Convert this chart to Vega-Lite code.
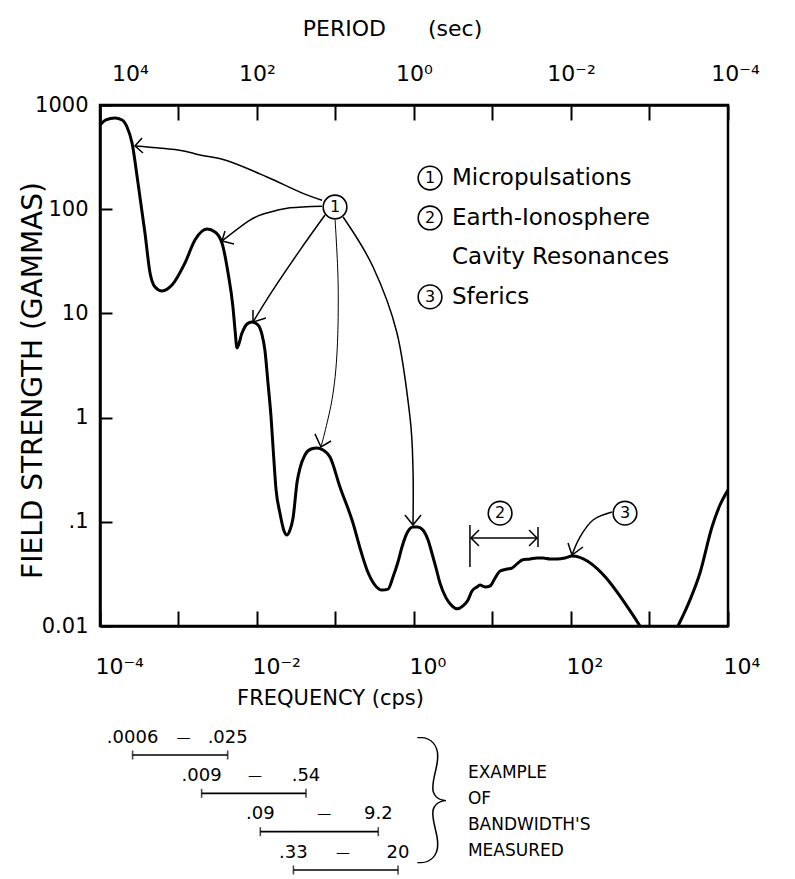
{
  "$schema": "https://vega.github.io/schema/vega-lite/v6.json",
  "width": 628,
  "height": 521,
  "autosize": {"type": "none"},
  "padding": {"left": 100, "top": 105, "right": 67, "bottom": 253},
  "background": "white",
  "config": {
    "view": {"stroke": "black", "strokeWidth": 2.5},
    "font": "DejaVu Sans",
    "text": {"font": "DejaVu Sans", "color": "black"},
    "axis": {"domainColor": "black", "domainWidth": 2.5, "tickColor": "black", "tickWidth": 2, "labelColor": "black", "titleColor": "black", "labelFont": "DejaVu Sans", "titleFont": "DejaVu Sans", "titleFontWeight": "normal", "grid": false, "labelOverlap": false, "labelFlush": false}
  },
  "datasets": {
    "curve": [
      {"f":0.0001,"B":643,"s":"a"},{"f":0.000119,"B":718,"s":"a"},{"f":0.000155,"B":750,"s":"a"},{"f":0.000191,"B":718,"s":"a"},
      {"f":0.000221,"B":615,"s":"a"},{"f":0.000256,"B":432,"s":"a"},{"f":0.000305,"B":178,"s":"a"},{"f":0.000374,"B":59.1,"s":"a"},
      {"f":0.000434,"B":24.4,"s":"a"},{"f":0.000502,"B":17.9,"s":"a"},{"f":0.000617,"B":16.4,"s":"a"},{"f":0.000826,"B":18.7,"s":"a"},
      {"f":0.00121,"B":30.5,"s":"a"},{"f":0.00162,"B":50.6,"s":"a"},{"f":0.00231,"B":64.6,"s":"a"},{"f":0.00292,"B":60.4,"s":"a"},
      {"f":0.00358,"B":47.4,"s":"a"},{"f":0.00428,"B":24.4,"s":"a"},{"f":0.00494,"B":11.5,"s":"a"},{"f":0.00525,"B":6.94,"s":"a"},
      {"f":0.00556,"B":4.66,"s":"a"},{"f":0.00644,"B":6.48,"s":"a"},{"f":0.00746,"B":7.91,"s":"a"},{"f":0.00863,"B":8.27,"s":"a"},
      {"f":0.0103,"B":7.74,"s":"a"},{"f":0.0116,"B":6.21,"s":"a"},{"f":0.0126,"B":4.46,"s":"a"},{"f":0.0138,"B":2.15,"s":"a"},
      {"f":0.0151,"B":1.01,"s":"a"},{"f":0.016,"B":0.522,"s":"a"},{"f":0.0175,"B":0.202,"s":"a"},{"f":0.0196,"B":0.121,"s":"a"},
      {"f":0.0221,"B":0.0816,"s":"a"},{"f":0.0241,"B":0.0747,"s":"a"},{"f":0.0263,"B":0.0834,"s":"a"},{"f":0.0288,"B":0.109,"s":"a"},
      {"f":0.0324,"B":0.241,"s":"a"},{"f":0.0353,"B":0.328,"s":"a"},{"f":0.0408,"B":0.438,"s":"a"},{"f":0.0488,"B":0.5,"s":"a"},
      {"f":0.0581,"B":0.511,"s":"a"},{"f":0.0693,"B":0.489,"s":"a"},{"f":0.0851,"B":0.419,"s":"a"},{"f":0.114,"B":0.216,"s":"a"},
      {"f":0.167,"B":0.0973,"s":"a"},{"f":0.205,"B":0.0561,"s":"a"},{"f":0.252,"B":0.0345,"s":"a"},{"f":0.318,"B":0.0247,"s":"a"},
      {"f":0.391,"B":0.0221,"s":"a"},{"f":0.467,"B":0.0226,"s":"a"},{"f":0.54,"B":0.0295,"s":"a"},{"f":0.625,"B":0.0411,"s":"a"},
      {"f":0.703,"B":0.0573,"s":"a"},{"f":0.815,"B":0.0781,"s":"a"},{"f":0.971,"B":0.0892,"s":"a"},{"f":1.12,"B":0.0892,"s":"a"},
      {"f":1.3,"B":0.0834,"s":"a"},{"f":1.51,"B":0.0668,"s":"a"},{"f":1.69,"B":0.0502,"s":"a"},{"f":1.91,"B":0.036,"s":"a"},
      {"f":2.14,"B":0.0259,"s":"a"},{"f":2.56,"B":0.0186,"s":"a"},{"f":3.05,"B":0.0156,"s":"a"},{"f":3.53,"B":0.0146,"s":"a"},
      {"f":4.21,"B":0.0156,"s":"a"},{"f":4.88,"B":0.0178,"s":"a"},{"f":5.48,"B":0.0217,"s":"a"},{"f":6.35,"B":0.0237,"s":"a"},
      {"f":6.93,"B":0.0247,"s":"a"},{"f":8.02,"B":0.0237,"s":"a"},{"f":9.29,"B":0.0242,"s":"a"},{"f":10.8,"B":0.0289,"s":"a"},
      {"f":12.5,"B":0.0337,"s":"a"},{"f":15.3,"B":0.0352,"s":"a"},{"f":17.7,"B":0.036,"s":"a"},{"f":20.5,"B":0.0394,"s":"a"},
      {"f":23.8,"B":0.043,"s":"a"},{"f":30.1,"B":0.044,"s":"a"},{"f":36.9,"B":0.045,"s":"a"},{"f":44,"B":0.045,"s":"a"},
      {"f":54,"B":0.044,"s":"a"},{"f":66.4,"B":0.044,"s":"a"},{"f":83.9,"B":0.045,"s":"a"},{"f":103,"B":0.047,"s":"a"},
      {"f":757,"B":0.01,"s":"a"},
      {"f":2307,"B":0.01,"s":"b"},{"f":3281,"B":0.0178,"s":"b"},{"f":4395,"B":0.0323,"s":"b"},{"f":6252,"B":0.0892,"s":"b"},
      {"f":7907,"B":0.145,"s":"b"},{"f":10000,"B":0.202,"s":"b"}
    ],
    "arrows": [
      {"id":"a1","o":1,"f":0.0673,"B":122},{"id":"a1","o":2,"f":0.0353,"B":146},{"id":"a1","o":3,"f":0.0134,"B":204},{"id":"a1","o":4,"f":0.00428,"B":290},{"id":"a1","o":5,"f":0.00188,"B":331},{"id":"a1","o":6,"f":0.000986,"B":370},{"id":"a1","o":7,"f":0.000279,"B":404},
      {"id":"a2","o":1,"f":0.0673,"B":107},{"id":"a2","o":2,"f":0.0263,"B":103},{"id":"a2","o":3,"f":0.0134,"B":92},{"id":"a2","o":4,"f":0.00815,"B":78.7},{"id":"a2","o":5,"f":0.00358,"B":49.6},
      {"id":"a3","o":1,"f":0.0735,"B":87.9},{"id":"a3","o":2,"f":0.0353,"B":40.5},{"id":"a3","o":3,"f":0.016,"B":16.8},{"id":"a3","o":4,"f":0.00889,"B":8.26},
      {"id":"a4","o":1,"f":0.0986,"B":80.5},{"id":"a4","o":2,"f":0.108,"B":19.6},{"id":"a4","o":3,"f":0.105,"B":4.46},{"id":"a4","o":4,"f":0.0902,"B":1.48},{"id":"a4","o":5,"f":0.0653,"B":0.522},
      {"id":"a5","o":1,"f":0.125,"B":84.1},{"id":"a5","o":2,"f":0.301,"B":27.9},{"id":"a5","o":3,"f":0.607,"B":6.48},{"id":"a5","o":4,"f":0.889,"B":1.01},{"id":"a5","o":5,"f":0.971,"B":0.314},{"id":"a5","o":6,"f":0.971,"B":0.0953},
      {"id":"a6","o":1,"f":333,"B":0.124},{"id":"a6","o":2,"f":191,"B":0.104},{"id":"a6","o":3,"f":130,"B":0.0714},{"id":"a6","o":4,"f":103,"B":0.048}
    ],
    "heads": [
      {"id":"h1","o":1,"f":0.000343,"B":482},{"id":"h1","o":2,"f":0.000279,"B":404},{"id":"h1","o":3,"f":0.000353,"B":346},
      {"id":"h2","o":1,"f":0.00391,"B":61.8},{"id":"h2","o":2,"f":0.00358,"B":49.6},{"id":"h2","o":3,"f":0.00509,"B":46.3},
      {"id":"h3","o":1,"f":0.00889,"B":10.8},{"id":"h3","o":2,"f":0.00889,"B":8.26},{"id":"h3","o":3,"f":0.013,"B":9.04},
      {"id":"h4","o":1,"f":0.0548,"B":0.697},{"id":"h4","o":2,"f":0.0653,"B":0.522},{"id":"h4","o":3,"f":0.0877,"B":0.596},
      {"id":"h5","o":1,"f":0.767,"B":0.116},{"id":"h5","o":2,"f":0.971,"B":0.0931},{"id":"h5","o":3,"f":1.23,"B":0.116},
      {"id":"h6","o":1,"f":91.6,"B":0.0626},{"id":"h6","o":2,"f":103,"B":0.048},{"id":"h6","o":3,"f":142,"B":0.0573},
      {"id":"b1","o":1,"f":5.16,"B":0.0931},{"id":"b1","o":2,"f":5.16,"B":0.0368},
      {"id":"b2","o":1,"f":38,"B":0.0891},{"id":"b2","o":2,"f":38,"B":0.0573},
      {"id":"b3","o":1,"f":5.32,"B":0.07},{"id":"b3","o":2,"f":36.9,"B":0.07},
      {"id":"b4","o":1,"f":6.73,"B":0.0834},{"id":"b4","o":2,"f":5.32,"B":0.07},{"id":"b4","o":3,"f":6.73,"B":0.0586},
      {"id":"b5","o":1,"f":29.2,"B":0.0834},{"id":"b5","o":2,"f":36.9,"B":0.07},{"id":"b5","o":3,"f":29.2,"B":0.0586}
    ],
    "circles": [
      {"f":0.0986,"B":105,"t":"1"},{"f":12.5,"B":0.121,"t":"2"},{"f":487,"B":0.121,"t":"3"},
      {"f":1.6,"B":199,"t":"1"},{"f":1.6,"B":82.4,"t":"2"},{"f":1.6,"B":14.4,"t":"3"}
    ],
    "legend": [
      {"f":3.05,"B":199,"t":"Micropulsations"},
      {"f":3.05,"B":82.4,"t":"Earth-Ionosphere"},
      {"f":3.05,"B":34.8,"t":"Cavity Resonances"},
      {"f":3.05,"B":14.4,"t":"Sferics"}
    ],
    "bw": [
      {"row":1,"low":0.0006,"high":0.025,"mid":0.0044,"lo":".0006","hi":".025"},
      {"row":2,"low":0.009,"high":0.54,"mid":0.073,"lo":".009","hi":".54"},
      {"row":3,"low":0.09,"high":9.2,"mid":1.1,"lo":".09","hi":"9.2"},
      {"row":4,"low":0.33,"high":20,"mid":2.3,"lo":".33","hi":"20"}
    ],
    "notes": [
      {"v":310,"row":1.47,"t":"EXAMPLE\nOF\nBANDWIDTH'S\nMEASURED"}
    ],
    "brace": [
      {"v":75,"row":3.374,"t":"}"}
    ]
  },
  "resolve": {"scale": {"x": "independent", "y": "independent"}},
  "layer": [
    {
      "layer": [
        {
          "data": {"name": "curve"},
          "mark": {"type": "line", "color": "black", "strokeWidth": 3, "interpolate": "monotone", "clip": true},
          "encoding": {
            "x": {"field": "f", "type": "quantitative", "scale": {"type": "log", "domain": [0.0001, 10000], "nice": false},
              "axis": {"orient": "bottom", "values": [0.0001, 0.001, 0.01, 0.1, 1, 10, 100, 1000, 10000], "tickSize": -15, "labelPadding": 45, "labelFontSize": 22, "labelAlign": "left", "labelBaseline": "top", "labelOffset": -5,
                "labelExpr": "datum.value == 0.0001 ? '10⁻⁴' : datum.value == 0.01 ? '10⁻²' : datum.value == 1 ? '10⁰' : datum.value == 100 ? '10²' : datum.value == 10000 ? '10⁴' : ''",
                "title": "FREQUENCY (cps)", "titleFontSize": 21, "titleX": 230, "titleY": 72, "titleBaseline": "middle", "titleAlign": "center"}},
            "y": {"field": "B", "type": "quantitative", "scale": {"type": "log", "domain": [0.01, 1000], "nice": false},
              "axis": {"orient": "left", "values": [0.01, 0.1, 1, 10, 100, 1000], "tickSize": -12, "labelPadding": 24, "labelFontSize": 21, "labelExpr": "datum.value == 0.01 ? '0.01' : datum.value == 0.1 ? '.1' : datum.value == 1 ? '1' : datum.value == 10 ? '10' : datum.value == 100 ? '100' : '1000'", "title": "FIELD STRENGTH (GAMMAS)", "titleFontSize": 28, "titleX": -67, "titleY": 275, "titleAngle": -90, "titleBaseline": "middle", "titleAlign": "center"}},
            "detail": {"field": "s"}
          }
        },
        {
          "data": {"name": "arrows"},
          "mark": {"type": "line", "color": "black", "interpolate": "cardinal"},
          "encoding": {
            "x": {"field": "f", "type": "quantitative", "scale": {"type": "log", "domain": [0.0001, 10000], "nice": false}, "axis": null},
            "y": {"field": "B", "type": "quantitative", "scale": {"type": "log", "domain": [0.01, 1000], "nice": false},
              "axis": {"orient": "left", "values": [0.01, 0.1, 1, 10, 100, 1000], "tickSize": -12, "labelPadding": 24, "labelFontSize": 21, "labelExpr": "datum.value == 0.01 ? '0.01' : datum.value == 0.1 ? '.1' : datum.value == 1 ? '1' : datum.value == 10 ? '10' : datum.value == 100 ? '100' : '1000'", "title": "FIELD STRENGTH (GAMMAS)", "titleFontSize": 28, "titleX": -67, "titleY": 275, "titleAngle": -90, "titleBaseline": "middle", "titleAlign": "center"}},
            "strokeWidth": {"condition": {"test": "datum.id == 'a4'", "value": 1}, "value": 1.5},
            "detail": {"field": "id"},
            "order": {"field": "o"}
          }
        },
        {
          "data": {"name": "heads"},
          "mark": {"type": "line", "color": "black", "strokeWidth": 1.5},
          "encoding": {
            "x": {"field": "f", "type": "quantitative", "scale": {"type": "log", "domain": [0.0001, 10000], "nice": false}, "axis": null},
            "y": {"field": "B", "type": "quantitative", "scale": {"type": "log", "domain": [0.01, 1000], "nice": false},
              "axis": {"orient": "left", "values": [0.01, 0.1, 1, 10, 100, 1000], "tickSize": -12, "labelPadding": 24, "labelFontSize": 21, "labelExpr": "datum.value == 0.01 ? '0.01' : datum.value == 0.1 ? '.1' : datum.value == 1 ? '1' : datum.value == 10 ? '10' : datum.value == 100 ? '100' : '1000'", "title": "FIELD STRENGTH (GAMMAS)", "titleFontSize": 28, "titleX": -67, "titleY": 275, "titleAngle": -90, "titleBaseline": "middle", "titleAlign": "center"}},
            "detail": {"field": "id"},
            "order": {"field": "o"}
          }
        },
        {
          "data": {"name": "circles"},
          "mark": {"type": "point", "shape": "circle", "filled": false, "fill": "white", "fillOpacity": 1, "stroke": "black", "strokeWidth": 1.6, "size": 560, "opacity": 1},
          "encoding": {
            "x": {"field": "f", "type": "quantitative", "scale": {"type": "log", "domain": [0.0001, 10000], "nice": false}, "axis": null},
            "y": {"field": "B", "type": "quantitative", "scale": {"type": "log", "domain": [0.01, 1000], "nice": false},
              "axis": {"orient": "left", "values": [0.01, 0.1, 1, 10, 100, 1000], "tickSize": -12, "labelPadding": 24, "labelFontSize": 21, "labelExpr": "datum.value == 0.01 ? '0.01' : datum.value == 0.1 ? '.1' : datum.value == 1 ? '1' : datum.value == 10 ? '10' : datum.value == 100 ? '100' : '1000'", "title": "FIELD STRENGTH (GAMMAS)", "titleFontSize": 28, "titleX": -67, "titleY": 275, "titleAngle": -90, "titleBaseline": "middle", "titleAlign": "center"}}
          }
        },
        {
          "data": {"name": "circles"},
          "mark": {"type": "text", "fontSize": 16, "align": "center", "baseline": "middle", "color": "black"},
          "encoding": {
            "x": {"field": "f", "type": "quantitative", "scale": {"type": "log", "domain": [0.0001, 10000], "nice": false}, "axis": null},
            "y": {"field": "B", "type": "quantitative", "scale": {"type": "log", "domain": [0.01, 1000], "nice": false},
              "axis": {"orient": "left", "values": [0.01, 0.1, 1, 10, 100, 1000], "tickSize": -12, "labelPadding": 24, "labelFontSize": 21, "labelExpr": "datum.value == 0.01 ? '0.01' : datum.value == 0.1 ? '.1' : datum.value == 1 ? '1' : datum.value == 10 ? '10' : datum.value == 100 ? '100' : '1000'", "title": "FIELD STRENGTH (GAMMAS)", "titleFontSize": 28, "titleX": -67, "titleY": 275, "titleAngle": -90, "titleBaseline": "middle", "titleAlign": "center"}},
            "text": {"field": "t"}
          }
        },
        {
          "data": {"name": "legend"},
          "mark": {"type": "text", "fontSize": 23, "align": "left", "baseline": "middle", "color": "black"},
          "encoding": {
            "x": {"field": "f", "type": "quantitative", "scale": {"type": "log", "domain": [0.0001, 10000], "nice": false},
              "axis": {"orient": "top", "values": [0.0001, 0.001, 0.01, 0.1, 1, 10, 100, 1000, 10000], "tickSize": -15, "labelPadding": 35, "labelFontSize": 22, "labelAlign": "center", "labelBaseline": "bottom",
                "labelOffset": {"condition": [{"test": "datum.value < 0.001", "value": 30}, {"test": "datum.value > 1000", "value": 7}], "value": 0},
                "labelExpr": "datum.value == 0.0001 ? '10⁴' : datum.value == 0.01 ? '10²' : datum.value == 1 ? '10⁰' : datum.value == 100 ? '10⁻²' : datum.value == 10000 ? '10⁻⁴' : ''",
                "title": "PERIOD\u00a0\u00a0\u00a0\u00a0\u00a0\u00a0(sec)", "titleFontSize": 22, "titleX": 292, "titleY": -77, "titleBaseline": "middle", "titleAlign": "center"}},
            "y": {"field": "B", "type": "quantitative", "scale": {"type": "log", "domain": [0.01, 1000], "nice": false},
              "axis": {"orient": "left", "values": [0.01, 0.1, 1, 10, 100, 1000], "tickSize": -12, "labelPadding": 24, "labelFontSize": 21, "labelExpr": "datum.value == 0.01 ? '0.01' : datum.value == 0.1 ? '.1' : datum.value == 1 ? '1' : datum.value == 10 ? '10' : datum.value == 100 ? '100' : '1000'", "title": "FIELD STRENGTH (GAMMAS)", "titleFontSize": 28, "titleX": -67, "titleY": 275, "titleAngle": -90, "titleBaseline": "middle", "titleAlign": "center"}},
            "text": {"field": "t"}
          }
        }
      ]
    },
    {
      "layer": [
        {
          "data": {"name": "bw"},
          "mark": {"type": "rule", "color": "black", "strokeWidth": 1.6},
          "encoding": {
            "x": {"field": "low", "type": "quantitative", "scale": {"type": "log", "domain": [0.0001671, 8360000], "nice": false}, "axis": null},
            "x2": {"field": "high"},
            "y": {"field": "row", "type": "quantitative", "scale": {"domain": [1, 4], "range": [650, 765], "nice": false, "zero": false}, "axis": null}
          }
        },
        {
          "data": {"name": "bw"},
          "mark": {"type": "tick", "orient": "vertical", "color": "black", "size": 9, "thickness": 1.6},
          "encoding": {
            "x": {"field": "low", "type": "quantitative", "scale": {"type": "log", "domain": [0.0001671, 8360000], "nice": false}, "axis": null},
            "y": {"field": "row", "type": "quantitative", "scale": {"domain": [1, 4], "range": [650, 765], "nice": false, "zero": false}, "axis": null}
          }
        },
        {
          "data": {"name": "bw"},
          "mark": {"type": "tick", "orient": "vertical", "color": "black", "size": 9, "thickness": 1.6},
          "encoding": {
            "x": {"field": "high", "type": "quantitative", "scale": {"type": "log", "domain": [0.0001671, 8360000], "nice": false}, "axis": null},
            "y": {"field": "row", "type": "quantitative", "scale": {"domain": [1, 4], "range": [650, 765], "nice": false, "zero": false}, "axis": null}
          }
        },
        {
          "data": {"name": "bw"},
          "mark": {"type": "text", "fontSize": 18, "dy": -17.5, "align": "center", "baseline": "middle", "color": "black"},
          "encoding": {
            "x": {"field": "low", "type": "quantitative", "scale": {"type": "log", "domain": [0.0001671, 8360000], "nice": false}, "axis": null},
            "y": {"field": "row", "type": "quantitative", "scale": {"domain": [1, 4], "range": [650, 765], "nice": false, "zero": false}, "axis": null},
            "text": {"field": "lo"}
          }
        },
        {
          "data": {"name": "bw"},
          "mark": {"type": "text", "fontSize": 18, "dy": -17.5, "align": "center", "baseline": "middle", "color": "black"},
          "encoding": {
            "x": {"field": "high", "type": "quantitative", "scale": {"type": "log", "domain": [0.0001671, 8360000], "nice": false}, "axis": null},
            "y": {"field": "row", "type": "quantitative", "scale": {"domain": [1, 4], "range": [650, 765], "nice": false, "zero": false}, "axis": null},
            "text": {"field": "hi"}
          }
        },
        {
          "data": {"name": "bw"},
          "mark": {"type": "text", "fontSize": 14, "dy": -17.5, "align": "center", "baseline": "middle", "color": "black"},
          "encoding": {
            "x": {"field": "mid", "type": "quantitative", "scale": {"type": "log", "domain": [0.0001671, 8360000], "nice": false}, "axis": null},
            "y": {"field": "row", "type": "quantitative", "scale": {"domain": [1, 4], "range": [650, 765], "nice": false, "zero": false}, "axis": null},
            "text": {"value": "—"}
          }
        },
        {
          "data": {"name": "notes"},
          "mark": {"type": "text", "fontSize": 17, "align": "left", "baseline": "middle", "lineBreak": "\n", "lineHeight": 26, "color": "black"},
          "encoding": {
            "x": {"field": "v", "type": "quantitative", "scale": {"type": "log", "domain": [0.0001671, 8360000], "nice": false}, "axis": null},
            "y": {"field": "row", "type": "quantitative", "scale": {"domain": [1, 4], "range": [650, 765], "nice": false, "zero": false}, "axis": null},
            "text": {"field": "t"}
          }
        },
        {
          "data": {"name": "brace"},
          "mark": {"type": "text", "font": "Lato", "fontWeight": 100, "fontSize": 144, "align": "center", "baseline": "alphabetic", "color": "black"},
          "encoding": {
            "x": {"field": "v", "type": "quantitative", "scale": {"type": "log", "domain": [0.0001671, 8360000], "nice": false}, "axis": null},
            "y": {"field": "row", "type": "quantitative", "scale": {"domain": [1, 4], "range": [650, 765], "nice": false, "zero": false}, "axis": null},
            "text": {"field": "t"}
          }
        }
      ]
    }
  ]
}
